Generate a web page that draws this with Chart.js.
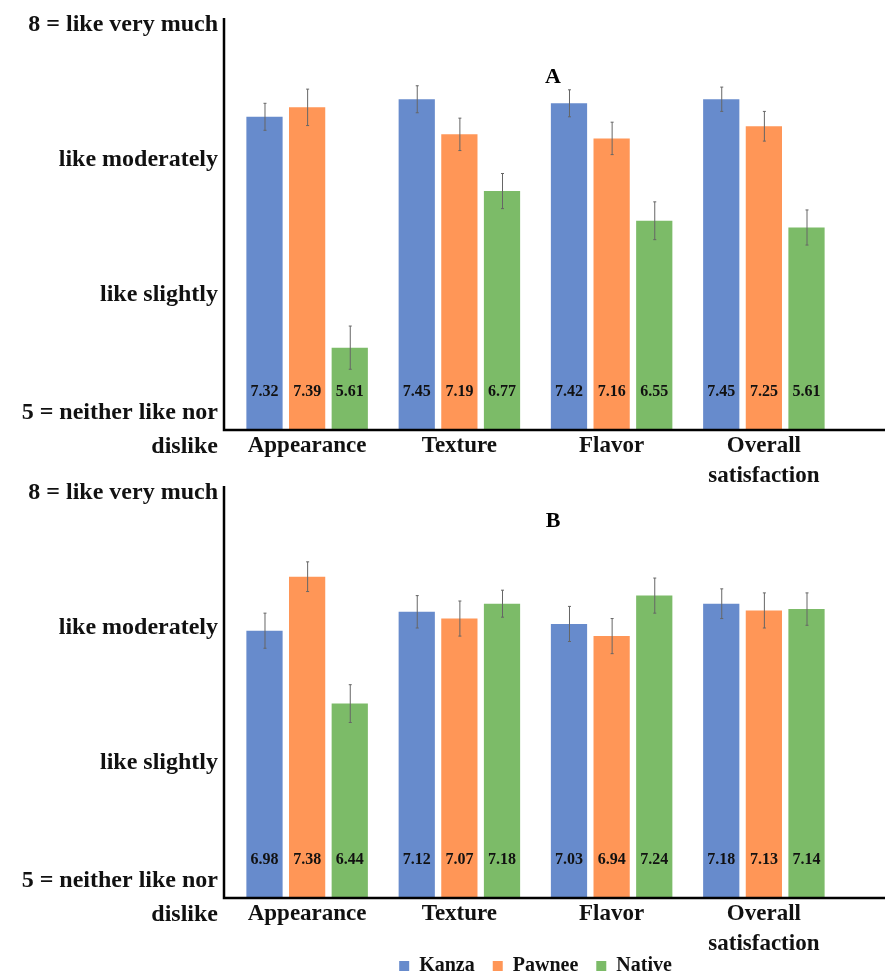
<!DOCTYPE html>
<html>
<head>
<meta charset="utf-8">
<script src="https://cdn.jsdelivr.net/npm/chart.js@4.4.1/dist/chart.umd.min.js"></script>
<style>
  html, body { margin: 0; padding: 0; background: #fff; }
  #wrap { position: relative; width: 885px; height: 978px; overflow: hidden; }
  canvas { position: absolute; left: 0; }
</style>
</head>
<body>
<div id="wrap">
  <canvas id="chartA" width="885" height="485" style="top:0"></canvas>
  <canvas id="chartB" width="885" height="526" style="top:460px"></canvas>
</div>
<script>
// categories and series
const categories = ['Appearance', 'Texture', 'Flavor', ['Overall', 'satisfaction']];
const seriesNames = ['Kanza', 'Pawnee', 'Native'];
const seriesColors = ['#678BCC', '#FF9657', '#7CBB68'];

// y tick labels (scale 5..8)
const tickValues = [5, 6, 7, 8];
const tickLabels = [['5 = neither like nor', 'dislike'], 'like slightly', 'like moderately', '8 = like very much'];

// panel A (bar heights)
const kanzaA = [7.32, 7.45, 7.42, 7.45];
const pawneeA = [7.39, 7.19, 7.16, 7.25];
const nativeA = [5.61, 6.77, 6.55, 6.50];
// printed labels on the bars of panel A
const kanzaALabels = ['7.32', '7.45', '7.42', '7.45'];
const pawneeALabels = ['7.39', '7.19', '7.16', '7.25'];
const nativeALabels = ['5.61', '6.77', '6.55', '5.61'];
// error bar half-widths, panel A
const kanzaAErr = [0.10, 0.10, 0.10, 0.09];
const pawneeAErr = [0.135, 0.12, 0.12, 0.11];
const nativeAErr = [0.16, 0.13, 0.14, 0.13];

// panel B
const kanzaB = [6.98, 7.12, 7.03, 7.18];
const pawneeB = [7.38, 7.07, 6.94, 7.13];
const nativeB = [6.44, 7.18, 7.24, 7.14];
const kanzaBErr = [0.13, 0.12, 0.13, 0.11];
const pawneeBErr = [0.11, 0.13, 0.13, 0.13];
const nativeBErr = [0.14, 0.10, 0.13, 0.12];

const FONT = "'Liberation Serif', 'DejaVu Serif', serif";

// draws error bars, value labels, axis lines and the panel letter
const panelPlugin = {
    id: 'panel',
    afterDatasetsDraw(chart, args, o) {
        const ctx = chart.ctx;
        const area = chart.chartArea;
        const yScale = chart.scales.y;
        ctx.save();
        chart.data.datasets.forEach((ds, i) => {
            const meta = chart.getDatasetMeta(i);
            meta.data.forEach((bar, j) => {
                const v = ds.data[j];
                const e = o.errors[i][j];
                const yTop = yScale.getPixelForValue(v + e);
                const yBot = yScale.getPixelForValue(v - e);
                ctx.strokeStyle = '#666';
                ctx.lineWidth = 1;
                ctx.beginPath();
                ctx.moveTo(bar.x + 0.5, yTop);
                ctx.lineTo(bar.x + 0.5, yBot);
                ctx.moveTo(bar.x - 1, yTop);
                ctx.lineTo(bar.x + 2, yTop);
                ctx.moveTo(bar.x - 1, yBot);
                ctx.lineTo(bar.x + 2, yBot);
                ctx.stroke();

                ctx.fillStyle = '#111';
                ctx.font = 'bold 16px ' + FONT;
                ctx.textAlign = 'center';
                ctx.textBaseline = 'middle';
                ctx.fillText(o.printed[i][j], bar.x, area.bottom - 38);
            });
        });
        // axis lines
        ctx.strokeStyle = '#000';
        ctx.lineWidth = 2.5;
        ctx.beginPath();
        ctx.moveTo(area.left - 7, area.top - 7);
        ctx.lineTo(area.left - 7, area.bottom);
        ctx.lineTo(chart.width, area.bottom);
        ctx.stroke();
        // panel letter
        ctx.fillStyle = '#000';
        ctx.font = 'bold 22px ' + FONT;
        ctx.textAlign = 'center';
        ctx.textBaseline = 'middle';
        ctx.fillText(o.letter, area.left + 322, area.top + o.letterDy);
        ctx.restore();
    }
};

function makeChart(canvasId, values, errors, printed, letter, letterDy, topPad, xHeight, showLegend) {
    const ctx = document.getElementById(canvasId).getContext('2d');
    return new Chart(ctx, {
        type: 'bar',
        data: {
            labels: categories,
            datasets: seriesNames.map((name, i) => ({
                label: name,
                data: values[i],
                backgroundColor: seriesColors[i],
                borderWidth: 0,
                categoryPercentage: 0.84,
                barPercentage: 0.85
            }))
        },
        options: {
            responsive: false,
            devicePixelRatio: 1,
            animation: false,
            layout: { padding: { top: topPad, right: 45, left: 0, bottom: 0 } },
            scales: {
                x: {
                    grid: { display: false, drawTicks: false },
                    border: { display: false },
                    ticks: {
                        color: '#111',
                        padding: 1,
                        maxRotation: 0,
                        autoSkip: false,
                        font: { family: FONT, size: 23, weight: 'bold', lineHeight: 1.3 }
                    },
                    afterFit(scale) {
                        scale.height = xHeight;
                        scale.paddingLeft = 0;
                        scale.paddingRight = 0;
                    }
                },
                y: {
                    min: 5,
                    max: 8,
                    grid: { display: false, drawTicks: false },
                    border: { display: false },
                    afterBuildTicks(scale) {
                        scale.ticks = tickValues.map(v => ({ value: v }));
                    },
                    ticks: {
                        color: '#111',
                        padding: 13,
                        font: { family: FONT, size: 24, weight: 'bold', lineHeight: 1.4 },
                        callback: (v) => tickLabels[tickValues.indexOf(v)]
                    },
                    afterFit(scale) {
                        scale.width = 231;
                        scale.paddingTop = 0;
                        scale.paddingBottom = 0;
                    }
                }
            },
            plugins: {
                legend: {
                    display: showLegend,
                    position: 'bottom',
                    fullSize: false,
                    labels: {
                        boxWidth: 10,
                        boxHeight: 10,
                        padding: 3,
                        color: '#111',
                        font: { family: FONT, size: 20, weight: 'bold' },
                        generateLabels(chart) {
                            const items = Chart.defaults.plugins.legend.labels.generateLabels(chart);
                            // trailing spaces widen the gap between items
                            items.forEach((it, i) => {
                                if (i < items.length - 1) it.text = it.text + '   ';
                            });
                            return items;
                        }
                    }
                },
                tooltip: { enabled: false },
                panel: { errors: errors, printed: printed, letter: letter, letterDy: letterDy }
            }
        },
        plugins: [panelPlugin]
    });
}

makeChart('chartA',
    [kanzaA, pawneeA, nativeA],
    [kanzaAErr, pawneeAErr, nativeAErr],
    [kanzaALabels, pawneeALabels, nativeALabels],
    'A', 52, 25, 55, false);

makeChart('chartB',
    [kanzaB, pawneeB, nativeB],
    [kanzaBErr, pawneeBErr, nativeBErr],
    [kanzaB.map(v => v.toFixed(2)), pawneeB.map(v => v.toFixed(2)), nativeB.map(v => v.toFixed(2))],
    'B', 28, 33, 55, true);
</script>
</body>
</html>
